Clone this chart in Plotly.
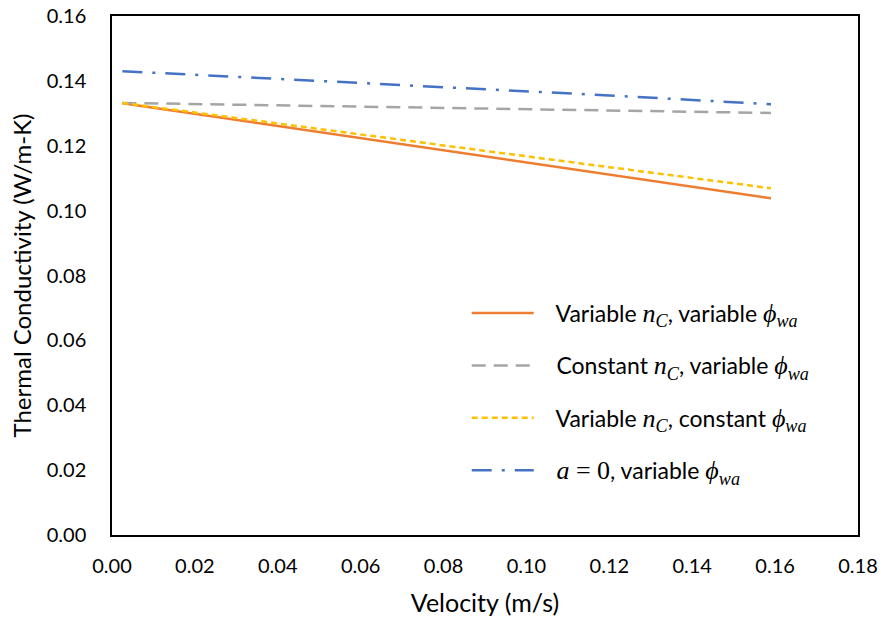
import plotly.graph_objects as go

velocity = [0.0025, 0.04, 0.08, 0.12, 0.159]
k_var_nc_var_phi = [0.1331, 0.1261, 0.1186, 0.1111, 0.1038]
k_const_nc_var_phi = [0.1332, 0.1325, 0.1317, 0.1309, 0.1301]
k_var_nc_const_phi = [0.1332, 0.1268, 0.1201, 0.1134, 0.1069]
k_a0_var_phi = [0.1430, 0.1406, 0.1381, 0.1355, 0.1328]

x_ticks = [0.00, 0.02, 0.04, 0.06, 0.08, 0.10, 0.12, 0.14, 0.16, 0.18]
y_ticks = [0.00, 0.02, 0.04, 0.06, 0.08, 0.10, 0.12, 0.14, 0.16]

M = '<span style="font-family:Liberation Serif;font-size:26px">'
nc = M + '<i>n</i><sub><i>C</i></sub></span>'
phi = M + '<i>ϕ</i><sub><i>wa</i></sub></span>'
a0 = M + '<i>a</i> = 0</span>'
pad = "\u00a0\u00a0\u00a0"

names = [
    f"{pad}Variable {nc}, variable {phi}",
    f"{pad}Constant {nc}, variable {phi}",
    f"{pad}Variable {nc}, constant {phi}",
    f"{pad}{a0}, variable {phi}",
]
series = [k_var_nc_var_phi, k_const_nc_var_phi, k_var_nc_const_phi, k_a0_var_phi]
colors = ["#ED7D31", "#A5A5A5", "#FFC000", "#4472C4"]
dashes = ["solid", "14px,8px", "6px,4px", "20px,10px,3px,10px"]

fig = go.Figure()
for i, (nm, ys, c, d) in enumerate(zip(names, series, colors, dashes)):
    fig.add_trace(go.Scatter(x=velocity, y=ys, mode="lines", name=nm,
                             legendgroup=f"g{i}",
                             line=dict(color=c, width=2.5, dash=d)))

font = "Lato, Open Sans, sans-serif"
fig.update_layout(
    width=881, height=621,
    margin=dict(l=112, r=23, t=16, b=86),
    paper_bgcolor="white", plot_bgcolor="white",
    font=dict(family=font, size=20, color="#000000"),
    showlegend=True,
    legend=dict(x=0.4755, y=0.469, xanchor="left", yanchor="top",
                bgcolor="rgba(0,0,0,0)", tracegroupgap=19.5, itemwidth=62,
                font=dict(size=23), traceorder="grouped"),
    xaxis=dict(range=[0, 0.18], tickvals=x_ticks, tickformat=".2f",
               showgrid=False, zeroline=False, showline=True, mirror=True,
               linecolor="black", linewidth=1.5, ticks="", automargin=False,
               ticklabelstandoff=12, tickfont=dict(size=20),
               title=dict(text="Velocity (m/s)", font=dict(size=25), standoff=19)),
    yaxis=dict(range=[0, 0.16], tickvals=y_ticks, tickformat=".2f",
               showgrid=False, zeroline=False, showline=True, mirror=True,
               linecolor="black", linewidth=1.5, ticks="", automargin=False,
               ticklabelstandoff=20, tickfont=dict(size=20),
               title=dict(text="Thermal Conductivity (W/m-K)", font=dict(size=24), standoff=8)),
)

fig.write_html("out.html")
